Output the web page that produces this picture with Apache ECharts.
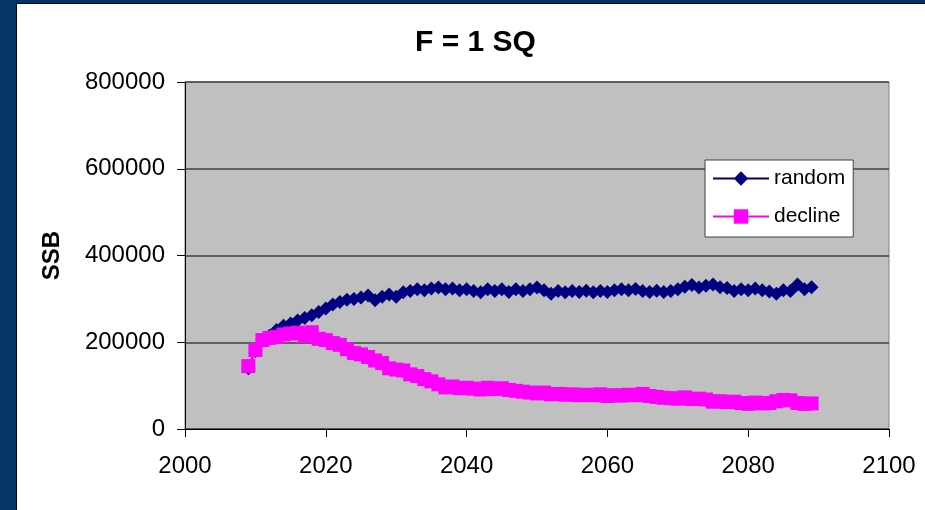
<!DOCTYPE html>
<html>
<head>
<meta charset="utf-8">
<script src="https://cdn.jsdelivr.net/npm/echarts@6/dist/echarts.min.js"></script>
<style>
html,body{margin:0;padding:0;background:#fff;}
#chart{width:925px;height:510px;}
</style>
</head>
<body>
<div id="chart"></div>
<script>
const years = [];
for (let y = 2009; y <= 2089; y++) years.push(y);

const randomSSB = [
 140000,180000,205000,215000,228000,238000,243000,250000,256000,262000,
 270000,278000,287000,293000,298000,300000,303000,308000,297000,305000,
 310000,305000,315000,318000,322000,320000,324000,326000,322000,324000,
 320000,322000,318000,315000,322000,318000,322000,316000,322000,318000,
 322000,326000,320000,312000,318000,315000,318000,316000,319000,315000,
 318000,316000,320000,322000,320000,323000,318000,316000,319000,316000,
 318000,322000,328000,332000,326000,330000,333000,327000,325000,318000,
 322000,320000,324000,320000,317000,312000,320000,318000,333000,322000,
 327000
];
const declineSSB = [
 145000,182000,205000,210000,212000,218000,220000,222000,215000,223000,
 208000,205000,198000,194000,184000,175000,172000,166000,158000,152000,
 140000,137000,135000,126000,122000,115000,110000,103000,96000,98000,
 94000,95000,93000,91000,95000,92000,94000,90000,88000,86000,
 84000,82000,84000,80000,81000,79000,80000,78000,79000,78000,
 80000,76000,78000,77000,79000,78000,81000,76000,74000,72000,
 71000,70000,73000,69000,70000,68000,63000,64000,62000,63000,
 60000,58000,61000,59000,60000,64000,67000,66000,60000,58000,
 59000
];
const seriesNames = ['random', 'decline'];
const chartTitle = 'F = 1 SQ';
const yAxisName = 'SSB';

const FONT = 'Liberation Sans, Arial, sans-serif';
const chart = echarts.init(document.getElementById('chart'));
const toPairs = arr => years.map((y, i) => [y, arr[i]]);

chart.setOption({
  backgroundColor: '#ffffff',
  animation: false,
  graphic: [
    { type: 'rect', shape: { x: 0, y: 0, width: 925, height: 3 }, style: { fill: '#053567' }, z: 100 },
    { type: 'rect', shape: { x: 0, y: 0, width: 16, height: 510 }, style: { fill: '#053567' }, z: 100 },
    { type: 'rect', shape: { x: 16, y: 3, width: 909, height: 1 }, style: { fill: '#000' }, z: 100 },
    { type: 'rect', shape: { x: 16, y: 3, width: 1, height: 507 }, style: { fill: '#000' }, z: 100 }
  ],
  title: {
    text: chartTitle,
    left: 415,
    top: 28,
    padding: 0,
    textStyle: { fontFamily: FONT, fontSize: 30, fontWeight: 'bold', color: '#000' }
  },
  legend: {
    data: seriesNames,
    orient: 'vertical',
    left: 705,
    top: 160,
    padding: [8, 8, 10, 7],
    itemGap: 17,
    itemWidth: 56,
    itemHeight: 18,
    backgroundColor: '#ffffff',
    borderColor: '#404040',
    borderWidth: 1,
    borderRadius: 0,
    textStyle: { fontFamily: FONT, fontSize: 21, color: '#000' }
  },
  grid: {
    left: 185, right: 36, top: 82, bottom: 81,
    show: true,
    backgroundColor: '#C0C0C0',
    borderColor: '#808080',
    borderWidth: 1
  },
  xAxis: {
    type: 'value',
    min: 2000, max: 2100, interval: 20,
    axisLine: { show: true, lineStyle: { color: '#000', width: 1 } },
    axisTick: { show: true, length: 8, lineStyle: { color: '#000' } },
    axisLabel: { fontFamily: FONT, fontSize: 24, color: '#000', margin: 25, formatter: v => String(v) },
    splitLine: { show: false }
  },
  yAxis: {
    type: 'value',
    min: 0, max: 800000, interval: 200000,
    name: yAxisName,
    nameLocation: 'middle',
    nameRotate: 90,
    nameGap: 121,
    nameTextStyle: { fontFamily: FONT, fontSize: 24, fontWeight: 'bold', color: '#000' },
    axisLine: { show: true, lineStyle: { color: '#000', width: 1 } },
    axisTick: { show: true, length: 8, lineStyle: { color: '#000' } },
    axisLabel: { fontFamily: FONT, fontSize: 24, color: '#000', margin: 20, formatter: v => String(v) },
    splitLine: { show: true, lineStyle: { color: '#404040', width: 1.5 } }
  },
  series: [
    {
      name: seriesNames[0], type: 'line', data: toPairs(randomSSB),
      symbol: 'diamond', symbolSize: 14, showAllSymbol: true,
      itemStyle: { color: '#000080' },
      lineStyle: { color: '#000080', width: 1.5 }
    },
    {
      name: seriesNames[1], type: 'line', data: toPairs(declineSSB),
      symbol: 'rect', symbolSize: 14, showAllSymbol: true,
      itemStyle: { color: '#FF00FF' },
      lineStyle: { color: '#FF00FF', width: 1.5 }
    }
  ]
});
</script>
</body>
</html>
